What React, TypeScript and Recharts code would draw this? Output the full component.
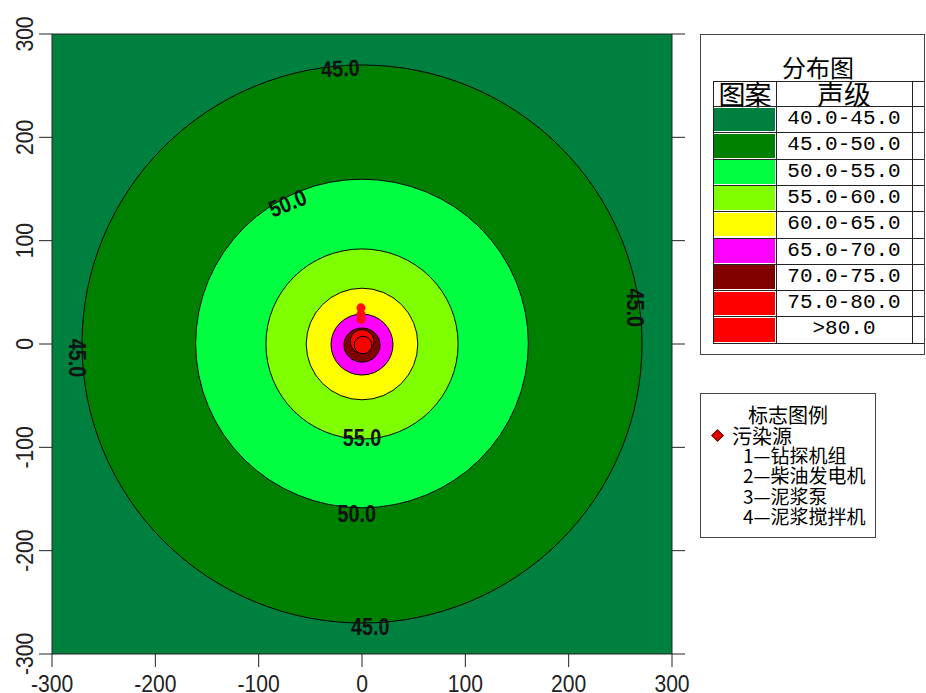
import React from "react";
import { ScatterChart, Scatter, XAxis, YAxis, ReferenceArea, ReferenceDot } from "recharts";

const axisTicks = [-300, -200, -100, 0, 100, 200, 300];

// legend classes (声级) and their fill colours
const levelNames = ["40.0-45.0", "45.0-50.0", "50.0-55.0", "55.0-60.0", "60.0-65.0", "65.0-70.0", "70.0-75.0", "75.0-80.0", ">80.0"];
const levelColors = ["#00803f", "#008000", "#00ff40", "#80ff00", "#ffff00", "#ff00ff", "#800000", "#ff0000", "#ff0000"];

// contour rings 45, 50, 55, 60, 65, 70, 75, 80 (centre and radii in metres)
const ringCx = [0, 0, 0, 0, 0, 0, 0, 1];
const ringCy = [0, 0.5, 0, 0, -0.5, -1, 2.5, -1];
const ringRx = [271, 161, 93, 54, 30, 17.5, 11.5, 8.5];
const ringRy = [270, 159, 92, 54, 29.5, 16.5, 11.5, 8.5];

// contour labels
const labelText = ["45.0", "50.0", "55.0", "50.0", "45.0", "45.0", "45.0"];
const labelX = [-21, -72, 0, -5, 8, 264, -276];
const labelY = [267, 136.5, -91, -164.5, -274, 35, -13.5];
const labelAngle = [-3, -22, 0, 0, 0, 90, 90];

// source markers
const sourceX = [-1, -1, -1];
const sourceY = [35, 29, 24];

// marker legend
const markerTitle = "标志图例";
const markerName = "污染源";
const markerItems = ["1—钻探机组", "2—柴油发电机", "3—泥浆泵", "4—泥浆搅拌机"];

const sources = sourceX.map((x, i) => ({ x, y: sourceY[i] }));

const tickFont = "'Liberation Sans', Arial, sans-serif";
const cjkFont = "'Noto Sans CJK SC', sans-serif";

const BottomTick = (p: any) => (
    <text transform={`translate(${p.x},${p.y + 14.5}) scale(0.88,1)`} textAnchor="middle" dy="0.36em"
        fontSize={24} fontFamily={tickFont} fill="#222">
        {p.payload.value}
    </text>
);

const LeftTick = (p: any) => (
    <text transform={`translate(${p.x - 13},${p.y}) rotate(-90) scale(0.88,1)`} textAnchor="middle" dy="0.36em"
        fontSize={24} fontFamily={tickFont} fill="#222">
        {p.payload.value}
    </text>
);

const EmptyTick = () => <g />;

const Ring = (p: any) => (
    <ellipse cx={p.x + p.width / 2} cy={p.y + p.height / 2} rx={p.width / 2} ry={p.height / 2}
        fill={p.fill} stroke="#000" strokeWidth={1} />
);

function ContourLabel(text: string, angle: number) {
    return (p: any) => (
        <text transform={`translate(${p.cx},${p.cy}) rotate(${angle}) scale(0.86,1)`} textAnchor="middle" dy="0.36em"
            fontSize={23} fontWeight="bold" fontFamily={tickFont} fill="#111">
            {text}
        </text>
    );
}

const SourceDot = (p: any) => <circle cx={p.cx} cy={p.cy} r={4.5} fill="#ff1010" />;

function LevelLegend() {
    const left = 713, top = 81, headH = 25, rowH = 26.3;
    const c1 = 776, c2 = 912, right = 924;
    const bottom = top + headH + rowH * levelNames.length;
    const lines = [top, top + headH, ...levelNames.map((_, i) => top + headH + rowH * (i + 1))];
    return (
        <>
            <div style={{ position: "absolute", left: 700, top: 34, width: 225, height: 321, border: "1px solid #444", boxSizing: "border-box" }} />
            <div style={{ position: "absolute", left: 768, width: 100, top: 53, height: 28, lineHeight: "28px", textAlign: "center", fontFamily: cjkFont, fontSize: 24 }}>分布图</div>
            {levelNames.map((name, i) => {
                const y = top + headH + rowH * i;
                return (
                    <React.Fragment key={name}>
                        <div style={{ position: "absolute", left: left + 1, top: y + 1.5, width: c1 - left - 2, height: rowH - 2.5, background: levelColors[i] }} />
                        <div style={{ position: "absolute", left: c1, width: c2 - c1, top: y, height: rowH, lineHeight: `${rowH}px`, textAlign: "center", fontFamily: "'Liberation Mono', monospace", fontSize: 21 }}>{name}</div>
                    </React.Fragment>
                );
            })}
            <div style={{ position: "absolute", left: left, width: c1 - left, top: top - 2, height: 30, lineHeight: "30px", textAlign: "center", fontFamily: cjkFont, fontSize: 27, letterSpacing: -1 }}>图案</div>
            <div style={{ position: "absolute", left: c1, width: c2 - c1, top: top - 2, height: 30, lineHeight: "30px", textAlign: "center", fontFamily: cjkFont, fontSize: 27 }}>声级</div>
            {lines.map((y, i) => (
                <div key={i} style={{ position: "absolute", left: left, top: y, width: right - left, height: 1, background: "#222" }} />
            ))}
            {[left, c1, c2].map((x) => (
                <div key={x} style={{ position: "absolute", left: x, top: top, width: 1, height: bottom - top, background: "#222" }} />
            ))}
        </>
    );
}

function MarkerLegend() {
    return (
        <>
            <div style={{ position: "absolute", left: 700, top: 393, width: 176, height: 145, border: "1px solid #444", boxSizing: "border-box" }} />
            <div style={{ position: "absolute", left: 738, width: 100, top: 403, height: 24, lineHeight: "24px", textAlign: "center", fontFamily: cjkFont, fontSize: 20 }}>{markerTitle}</div>
            <div style={{ position: "absolute", left: 713, top: 431, width: 7, height: 7, background: "#e00000", border: "1px solid #700", transform: "rotate(45deg)" }} />
            <div style={{ position: "absolute", left: 732, top: 424, height: 24, lineHeight: "24px", fontFamily: cjkFont, fontSize: 20, whiteSpace: "nowrap" }}>{markerName}</div>
            {markerItems.map((t, i) => (
                <div key={t} style={{ position: "absolute", left: 743, top: 443 + i * 20.3, height: 24, lineHeight: "24px", fontFamily: cjkFont, fontSize: 19, whiteSpace: "nowrap" }}>{t}</div>
            ))}
        </>
    );
}

export default function App() {
    return (
        <div style={{ position: "relative", width: 926, height: 693, background: "#fff", overflow: "hidden" }}>
            <style>{"body{margin:0}"}</style>
            <div style={{ position: "absolute", left: 8, top: 8 }}>
                <ScatterChart width={918} height={685} margin={{ top: 0, right: 234, bottom: 0, left: 0 }}>
                    <XAxis xAxisId="b" type="number" dataKey="x" domain={[-300, 300]} ticks={axisTicks} interval={0}
                        allowDataOverflow orientation="bottom" height={39} tickSize={13} stroke="#222" tick={BottomTick} />
                    <XAxis xAxisId="t" type="number" domain={[-300, 300]} ticks={axisTicks} interval={0}
                        allowDataOverflow orientation="top" height={26} tickSize={13} stroke="#222" tick={EmptyTick} />
                    <YAxis yAxisId="l" type="number" dataKey="y" domain={[-300, 300]} ticks={axisTicks} interval={0}
                        allowDataOverflow orientation="left" width={44} tickSize={13} stroke="#222" tick={LeftTick} />
                    <YAxis yAxisId="r" type="number" domain={[-300, 300]} ticks={axisTicks} interval={0}
                        allowDataOverflow orientation="right" width={20} tickSize={13} stroke="#222" tick={EmptyTick} />
                    <ReferenceArea xAxisId="b" yAxisId="l" x1={-300} x2={300} y1={-300} y2={300}
                        fill={levelColors[0]} fillOpacity={1} stroke="none" ifOverflow="visible" />
                    {ringRx.map((rx, i) => (
                        <ReferenceArea key={i} xAxisId="b" yAxisId="l"
                            x1={ringCx[i] - rx} x2={ringCx[i] + rx} y1={ringCy[i] - ringRy[i]} y2={ringCy[i] + ringRy[i]}
                            fill={levelColors[i + 1]} fillOpacity={1} ifOverflow="visible" shape={Ring} />
                    ))}
                    <Scatter xAxisId="b" yAxisId="l" data={sources} shape={SourceDot} isAnimationActive={false} />
                    {labelText.map((t, i) => (
                        <ReferenceDot key={i} xAxisId="b" yAxisId="l" x={labelX[i]} y={labelY[i]} r={1}
                            ifOverflow="visible" shape={ContourLabel(t, labelAngle[i])} />
                    ))}
                </ScatterChart>
            </div>
            <LevelLegend />
            <MarkerLegend />
        </div>
    );
}
